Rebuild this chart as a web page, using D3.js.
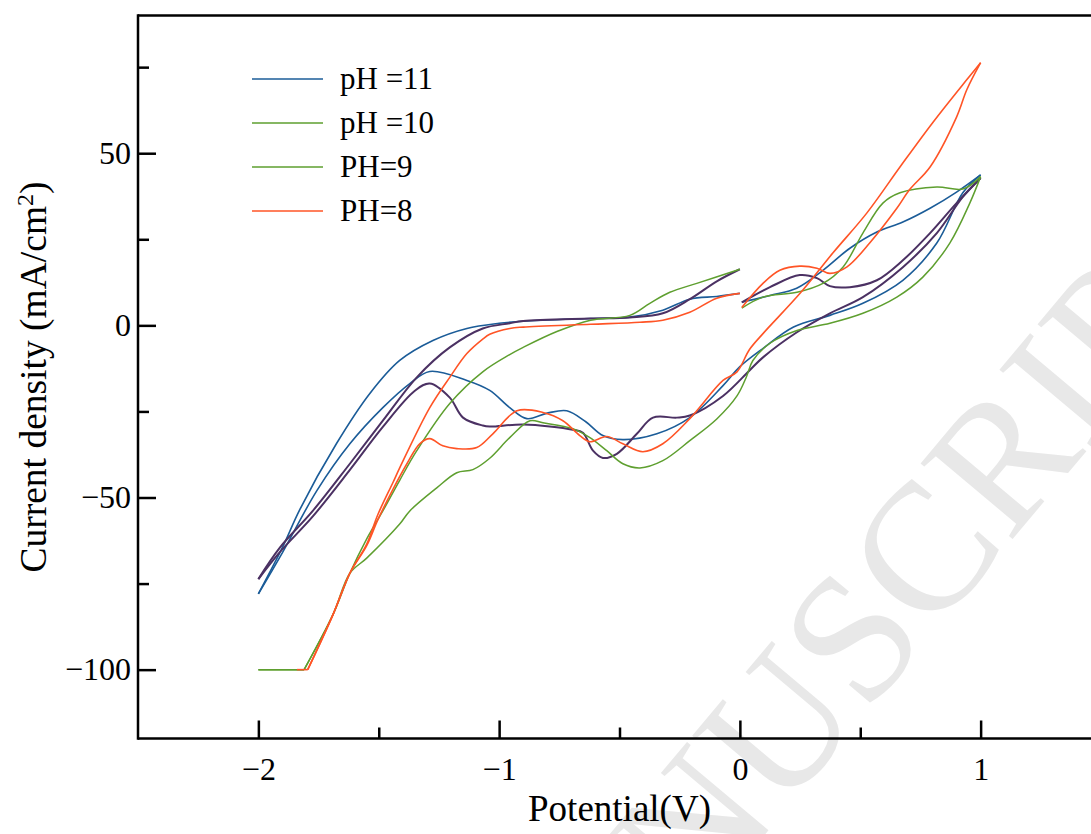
<!DOCTYPE html>
<html>
<head>
<meta charset="utf-8">
<script src="https://cdn.jsdelivr.net/npm/d3@7"></script>
<style>
  html, body { margin: 0; padding: 0; background: #fff; overflow: hidden; }
  svg { display: block; }
  text { font-family: "Liberation Serif", "Times New Roman", serif; fill: #000; }
</style>
</head>
<body>
<svg id="chart" width="1091" height="834"></svg>
<script>
// Cyclic voltammograms at four pH values: [potential (V), current density (mA/cm2)]
// Each loop = forward sweep (-2 -> 0), forward sweep (0 -> 1), reverse sweep (1 -> -2).
// The potentiostat clips the current at -100 mA/cm2.

const pH11_forwardNeg = [[-2,-78],[-1.9,-64.5],[-1.828,-53.5],[-1.676,-34.4],[-1.537,-19.8],[-1.413,-10.2],[-1.275,-4.4],[-1.134,-0.9],[-1.0,0.6],[-0.9,1.2],[-0.62,2.0],[-0.457,2.4],[-0.32,4.4],[-0.208,7.6],[-0.096,8.4],[0,9.3]];
const pH11_forwardPos = [[0.008,6.7],[0.125,8.7],[0.236,10.8],[0.345,16],[0.457,22.4],[0.569,27.1],[0.677,30],[0.79,34],[0.9,38.7],[1.0,43.7]];
const pH11_reverse = [[1.0,43.7],[0.926,38.5],[0.818,23.9],[0.677,13.1],[0.511,6.4],[0.374,2.9],[0.223,-0.5],[0.098,-6.6],[0.0,-12],[-0.07,-17.5],[-0.208,-26.8],[-0.345,-31.5],[-0.486,-33.2],[-0.569,-32],[-0.64,-28],[-0.719,-24.8],[-0.8,-25.5],[-0.885,-27.1],[-0.956,-23.9],[-1.039,-18.9],[-1.134,-16],[-1.288,-13.4],[-1.371,-16.9],[-1.483,-23.9],[-1.62,-34.4],[-1.757,-48],[-1.9,-66],[-2,-78]];

const pH10_forwardNeg = [[-2,-73.7],[-1.91,-64.5],[-1.774,-53.9],[-1.62,-40.2],[-1.483,-27.7],[-1.342,-15.1],[-1.205,-6.4],[-1.068,-0.9],[-0.956,0.6],[-0.9,1.3],[-0.62,2],[-0.457,2.3],[-0.32,3.5],[-0.208,7.6],[-0.096,12.8],[0,16.3]];
const pH10_forwardPos = [[0.008,6.7],[0.125,11.1],[0.249,14.6],[0.32,13.7],[0.374,11.4],[0.457,11.1],[0.569,13.1],[0.677,18.9],[0.79,26.8],[0.9,35.5],[1.0,42.8]];
const pH10_reverse = [[1.0,42.8],[0.926,37.3],[0.818,26.8],[0.677,16.9],[0.511,8.2],[0.374,3.5],[0.237,-2],[0.096,-9.3],[0.04,-13.1],[-0.07,-20.5],[-0.208,-26.2],[-0.262,-26.8],[-0.361,-26.8],[-0.428,-31.5],[-0.511,-37.3],[-0.569,-38.5],[-0.61,-36.4],[-0.652,-31.2],[-0.694,-30.3],[-0.9,-28.8],[-1.039,-29.4],[-1.068,-29.1],[-1.15,-26.8],[-1.205,-21],[-1.288,-16.9],[-1.35,-19],[-1.483,-29.5],[-1.62,-42],[-1.774,-55.5],[-1.91,-65.8],[-2,-73.7]];

const pH9_forwardNeg = [[-2,-100],[-1.81,-100],[-1.69,-84],[-1.62,-72],[-1.55,-62],[-1.483,-53.9],[-1.413,-45],[-1.342,-36.4],[-1.205,-22.7],[-1.068,-13.5],[-0.956,-8.5],[-0.9,-6.4],[-0.76,-1.8],[-0.62,1.5],[-0.457,2.9],[-0.374,6.4],[-0.291,9.6],[-0.179,12.2],[0,16.3]];
const pH9_forwardPos = [[0.008,5],[0.096,8.2],[0.237,9.6],[0.345,12.2],[0.428,16.9],[0.511,26.8],[0.594,35.5],[0.665,38.5],[0.818,40.2],[0.926,39.6],[1.0,43.2]];
const pH9_reverse = [[1.0,43.2],[0.955,35.5],[0.872,23.9],[0.76,14],[0.652,8.2],[0.511,3.5],[0.374,0.6],[0.237,-1.5],[0.125,-5.2],[0.054,-10.2],[0.027,-15],[-0.012,-20.5],[-0.096,-27.2],[-0.208,-33.5],[-0.32,-39.3],[-0.415,-41.4],[-0.486,-40.2],[-0.553,-36.4],[-0.623,-32.6],[-0.694,-30],[-0.818,-28.3],[-0.872,-27.7],[-0.956,-32.6],[-1.039,-38.6],[-1.109,-41.9],[-1.176,-42.8],[-1.259,-47.2],[-1.371,-53.9],[-1.413,-57.7],[-1.55,-67.6],[-1.62,-72],[-1.69,-84],[-1.81,-100],[-2,-100]];

const pH8_forwardNeg = [[-1.84,-100],[-1.795,-100],[-1.69,-84],[-1.62,-72],[-1.55,-63.5],[-1.504,-55],[-1.44,-45.5],[-1.413,-41.4],[-1.288,-23.9],[-1.205,-15.1],[-1.134,-8.2],[-1.068,-4],[-1.039,-2.6],[-0.956,-0.9],[-0.9,-0.5],[-0.62,0.3],[-0.415,0.9],[-0.32,1.5],[-0.208,3.8],[-0.096,7.9],[0,9.3]];
const pH8_forwardPos = [[0.008,5.2],[0.096,12.2],[0.166,16],[0.249,17.2],[0.32,16.6],[0.374,15.1],[0.445,17],[0.54,24],[0.652,34],[0.706,39.5],[0.79,46],[0.9,60.5],[0.943,68.5],[1.0,76.3]];
const pH8_reverse = [[1.0,76.3],[0.943,71.4],[0.80,58.8],[0.665,46],[0.527,32.6],[0.386,21],[0.25,9.3],[0.096,-2.4],[0.04,-7],[-0.012,-13.5],[-0.07,-16],[-0.208,-27.1],[-0.32,-34.4],[-0.403,-36.7],[-0.486,-34.4],[-0.553,-32.3],[-0.623,-33.8],[-0.665,-32],[-0.735,-27.7],[-0.818,-25.3],[-0.926,-24.8],[-1.026,-31.5],[-1.093,-35.5],[-1.176,-35.8],[-1.234,-35],[-1.288,-32.9],[-1.33,-34.4],[-1.383,-40.2],[-1.44,-47.5],[-1.504,-56.5],[-1.55,-64],[-1.62,-72],[-1.69,-84],[-1.795,-100]];

// Legend entries, in legend order
const legendLabels = ["pH =11", "pH =10", "PH=9", "PH=8"];
const legendColors = ["#1b5c98", "#5e9f2f", "#5e9f2f", "#ff5426"];

// Axis ticks
const xMajorTicks = [-2, -1, 0, 1];
const xMinorTicks = [-1.5, -0.5, 0.5];
const yMajorTicks = [50, 0, -50, -100];
const yMinorTicks = [75, 25, -25, -75];

const CLIP_LEVEL = -100;

// Curves, in drawing order
const curves = [
  { name: "pH 11", color: "#1b5c98", width: 1.6, segments: [pH11_forwardNeg, pH11_forwardPos, pH11_reverse] },
  { name: "pH 10", color: "#4b3163", width: 2.0, segments: [pH10_forwardNeg, pH10_forwardPos, pH10_reverse] },
  { name: "pH 9",  color: "#5e9f2f", width: 1.5, segments: [pH9_forwardNeg, pH9_forwardPos, pH9_reverse] },
  { name: "pH 8",  color: "#ff5426", width: 1.6, segments: [pH8_forwardNeg, pH8_forwardPos, pH8_reverse] }
];

const svg = d3.select("#chart");
const plotLeft = 138, plotRight = 1101, plotTop = 15.5, plotBottom = 738.5;

const x = d3.scaleLinear().domain([-2.5, 1.5]).range([plotLeft, plotRight]);
const y = d3.scaleLinear().domain([-120, 90]).range([plotBottom, plotTop]);

// Background watermark
svg.append("text")
  .attr("transform", "translate(1262,242) rotate(-50)")
  .attr("text-anchor", "end")
  .style("font-size", "182px")
  .style("fill", "#e8e8e8")
  .text("ACCEPTED MANUSCRIPT");

// Curves: smooth spline for the measured part, straight run where the current is clipped
const smooth = d3.line().x(d => x(d[0])).y(d => y(d[1])).curve(d3.curveCatmullRom.alpha(0.5));
const straight = d3.line().x(d => x(d[0])).y(d => y(d[1]));

const plot = svg.append("g");
curves.forEach(c => {
  c.segments.forEach(seg => {
    const pts = seg.slice().sort((a, b) => a[0] - b[0]);
    const clipped = pts.filter(d => d[1] <= CLIP_LEVEL);
    const measured = pts.filter(d => d[1] > CLIP_LEVEL);
    const pieces = [];
    if (clipped.length) {
      pieces.push(straight(clipped));
      measured.unshift(clipped[clipped.length - 1]);
    }
    pieces.push(smooth(measured));
    pieces.forEach(dStr => {
      plot.append("path")
        .attr("d", dStr)
        .attr("fill", "none")
        .attr("stroke", c.color)
        .attr("stroke-width", c.width)
        .attr("stroke-linejoin", "round");
    });
  });
});

// Frame
const frame = svg.append("g").attr("stroke", "#000").attr("stroke-width", 2.5).attr("fill", "none");
frame.append("line").attr("x1", plotLeft).attr("x2", plotRight + 2).attr("y1", plotTop).attr("y2", plotTop);
frame.append("line").attr("x1", plotLeft).attr("x2", plotRight).attr("y1", plotBottom).attr("y2", plotBottom);
frame.append("line").attr("x1", plotLeft).attr("x2", plotLeft).attr("y1", plotTop - 1.25).attr("y2", plotBottom + 1.25);
frame.append("line").attr("x1", plotRight).attr("x2", plotRight).attr("y1", plotTop).attr("y2", plotBottom);

// Bottom axis
const fmt = d3.format("d");
const xAxis = d3.axisBottom(x).tickValues(xMajorTicks).tickFormat(v => fmt(v))
  .tickSizeInner(-18).tickSizeOuter(0).tickPadding(19);
const gx = svg.append("g").attr("transform", `translate(0,${plotBottom})`).call(xAxis);
gx.select(".domain").remove();
gx.selectAll(".tick line").attr("stroke", "#000").attr("stroke-width", 2.5);
gx.selectAll(".tick text").style("font-size", "32px").style("font-family", "Liberation Serif, serif");
const gxm = svg.append("g").attr("transform", `translate(0,${plotBottom})`)
  .call(d3.axisBottom(x).tickValues(xMinorTicks).tickFormat("").tickSizeInner(-11).tickSizeOuter(0));
gxm.select(".domain").remove();
gxm.selectAll(".tick line").attr("stroke", "#000").attr("stroke-width", 2.5);

// Left axis
const yAxis = d3.axisLeft(y).tickValues(yMajorTicks).tickFormat(v => fmt(v))
  .tickSizeInner(-18).tickSizeOuter(0).tickPadding(7);
const gy = svg.append("g").attr("transform", `translate(${plotLeft},0)`).call(yAxis);
gy.select(".domain").remove();
gy.selectAll(".tick line").attr("stroke", "#000").attr("stroke-width", 2.5);
gy.selectAll(".tick text").style("font-size", "32px").style("font-family", "Liberation Serif, serif");
const gym = svg.append("g").attr("transform", `translate(${plotLeft},0)`)
  .call(d3.axisLeft(y).tickValues(yMinorTicks).tickFormat("").tickSizeInner(-11).tickSizeOuter(0));
gym.select(".domain").remove();
gym.selectAll(".tick line").attr("stroke", "#000").attr("stroke-width", 2.5);

// Axis titles
svg.append("text")
  .attr("x", (plotLeft + plotRight) / 2).attr("y", 821)
  .attr("text-anchor", "middle")
  .style("font-size", "37px")
  .text("Potential(V)");

const yt = svg.append("text")
  .attr("transform", `translate(46,377) rotate(-90)`)
  .attr("text-anchor", "middle")
  .style("font-size", "37.5px");
yt.append("tspan").text("Current density (mA/cm");
yt.append("tspan").attr("dy", -13).style("font-size", "24px").text("2");
yt.append("tspan").attr("dy", 13).text(")");

// Legend
const legend = svg.append("g");
legendLabels.forEach((label, i) => {
  const ly = 79 + i * 44;
  legend.append("line")
    .attr("x1", 252).attr("x2", 323).attr("y1", ly).attr("y2", ly)
    .attr("stroke", legendColors[i]).attr("stroke-width", 1.6);
  legend.append("text")
    .attr("x", 340).attr("y", ly + 10)
    .style("font-size", "31px")
    .text(label);
});
</script>
</body>
</html>
